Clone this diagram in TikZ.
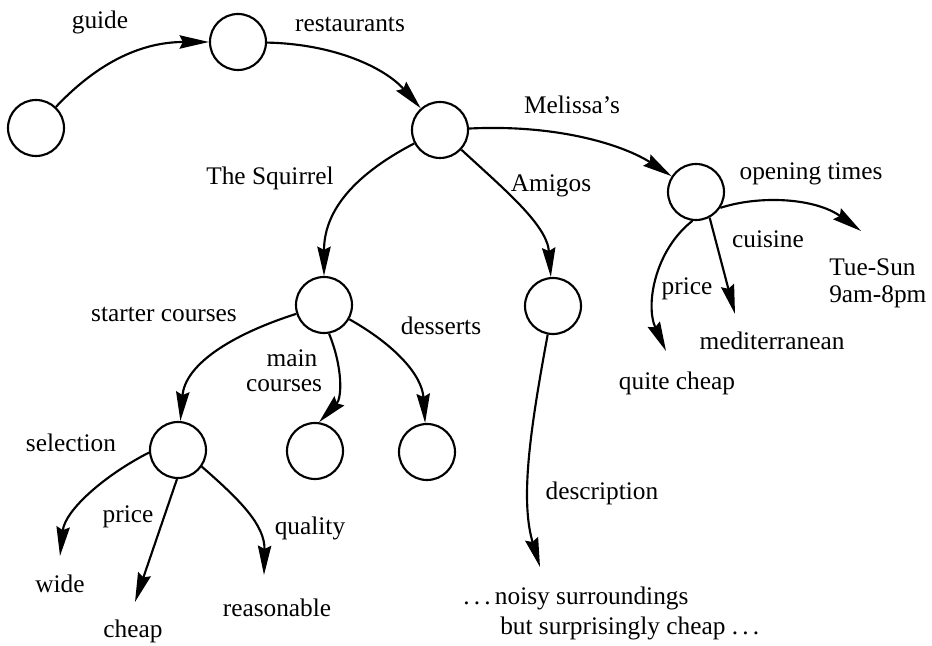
\documentclass[tikz,border=0pt]{standalone}
\usepackage{fontspec}
\setmainfont{Liberation Serif}
\usetikzlibrary{arrows.meta}
\begin{document}
\begin{tikzpicture}[x=0.75pt,y=0.75pt,
  state/.style={circle,draw,line width=1.6pt,inner sep=0pt,minimum size=42pt},
  tip/.tip={Stealth[length=22pt,width=10pt,inset=2.5pt]},
  edge/.style={line width=1.6pt,-tip},
  lbl/.style={inner sep=0pt,anchor=base,font=\fontsize{19pt}{23pt}\selectfont},
  lblw/.style={lbl,anchor=base west}]
\useasboundingbox (0,0) rectangle (932,646);

% states
\node[state] (r0)  at (36,518) {};
\node[state] (r1)  at (238,604) {};
\node[state] (r2)  at (440,516) {};
\node[state] (mel) at (696,454) {};
\node[state] (ami) at (553,340) {};
\node[state] (sq)  at (324,341) {};
\node[state] (sel) at (178,196) {};
\node[state] (mc)  at (315,195) {};
\node[state] (de)  at (427,194) {};

% free ends of the value arrows
\coordinate (ot) at (861,415);
\coordinate (cu) at (735,332);
\coordinate (pr) at (666,295);
\coordinate (ds) at (540,79);
\coordinate (wd) at (60,90);
\coordinate (ch) at (135,44);
\coordinate (rs) at (264,71);

% arrows
\draw[edge] (r0) .. controls (105,591) and (150,604) .. (r1);
\draw[edge] (r1) .. controls (335,602) and (385,578) .. (r2);
\draw[edge] (r2) .. controls (560,522) and (625,500) .. (mel);
\draw[edge] (r2) .. controls (348,468) and (324,431) .. (sq);
\draw[edge] (r2) .. controls (505,456) and (547,421) .. (ami);
\draw[edge] (mel.-33) .. controls (760,451) and (815,448) .. (ot);
\draw[edge] (mel.-62) -- (cu);
\draw[edge] (mel.-97) .. controls (655,396) and (645,341) .. (pr);
\draw[edge] (ami) .. controls (530,216) and (520,146) .. (ds);
\draw[edge] (sq) .. controls (230,311) and (185,281) .. (sel);
\draw[edge] (sq.-80) .. controls (343,278) and (342,248) .. (mc.82);
\draw[edge] (sq) .. controls (395,301) and (422,271) .. (de);
\draw[edge] (sel.185) .. controls (105,171) and (65,136) .. (wd);
\draw[edge] (sel.-92) -- (ch);
\draw[edge] (sel.-35) .. controls (240,146) and (265,121) .. (rs);

% labels
\node[lbl] (lguide) at (100,617) {guide};
\node[lbl] (lrest)  at (350,614) {restaurants};
\node[lbl] (lsq)    at (270,461) {The Squirrel};
\node[lbl] (lmel)   at (572,532) {Melissa's};
\node[lbl] (lami)   at (551,454) {Amigos};
\node[lbl] (lopen)  at (811,466) {opening times};
\node[lbl] (lcuis)  at (768,398) {cuisine};
\node[lblw] (ltue)  at (829,370) {Tue-Sun};
\node[lblw] (lnine) at (829,343) {9am-8pm};
\node[lbl] (lmed)   at (772,296) {mediterranean};
\node[lbl] (lprm)   at (687,351) {price};
\node[lbl] (lqc)    at (677,256) {quite cheap};
\node[lbl] (ldesc)  at (602,146) {description};
\node[lblw] (lnoisy) at (463,41) {.\,.\,.\,noisy surroundings};
\node[lblw] (lbut)   at (500,11) {but surprisingly cheap .\,.\,.};
\node[lbl] (lstart) at (164,324) {starter courses};
\node[lbl] (lmain)  at (292,279) {main};
\node[lbl] (lcour)  at (284,254) {courses};
\node[lbl] (ldess)  at (441,311) {desserts};
\node[lbl] (lsel)   at (71,194) {selection};
\node[lbl] (lprs)   at (128,123) {price};
\node[lbl] (lqual)  at (310,111) {quality};
\node[lbl] (lwide)  at (60,53) {wide};
\node[lbl] (lcheap) at (133,8) {cheap};
\node[lbl] (lreas)  at (277,29) {reasonable};
\end{tikzpicture}
\end{document}
